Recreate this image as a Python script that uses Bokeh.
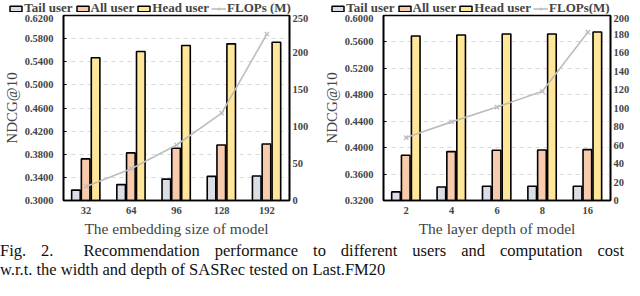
from bokeh.plotting import figure
from bokeh.models import (Range1d, LinearAxis, FactorRange, FixedTicker, Legend,
                          LegendItem, Div, NumeralTickFormatter, ColumnDataSource)
from bokeh.transform import dodge
from bokeh.layouts import row, column
from bokeh.embed import file_html
from bokeh.resources import INLINE

# ---- data ----
emb_sizes = ["32", "64", "96", "128", "192"]
emb_tail = [0.318, 0.3275, 0.337, 0.3417, 0.3423]
emb_all = [0.372, 0.3823, 0.3904, 0.396, 0.3977]
emb_head = [0.5469, 0.5578, 0.568, 0.571, 0.5738]
emb_flops = [19, 43, 75, 118, 225]
emb_yticks = [0.30, 0.34, 0.38, 0.42, 0.46, 0.50, 0.54, 0.58, 0.62]
emb_rticks = [0, 50, 100, 150, 200, 250]

depths = ["2", "4", "6", "8", "16"]
dep_tail = [0.333, 0.3405, 0.3415, 0.3415, 0.3415]
dep_all = [0.3885, 0.394, 0.396, 0.3965, 0.397]
dep_head = [0.569, 0.5705, 0.572, 0.572, 0.575]
dep_flops = [68, 85, 101, 118, 182]
dep_yticks = [0.32, 0.36, 0.40, 0.44, 0.48, 0.52, 0.56, 0.60]
dep_rticks = [0, 20, 40, 60, 80, 100, 120, 140, 160, 180, 200]

series_names = ["Tail user", "All user", "Head user"]
caption_1 = "Fig. 2.&nbsp; Recommendation performance to different users and computation cost"
caption_2 = "w.r.t. the width and depth of SASRec tested on Last.FM20"

FONT = "Liberation Serif"
COLORS = ["#D9DEE7", "#F8CBAD", "#FFE699"]
FLOP_COLOR = "#BDBDBD"
NAN = float("nan")


def legend_fig(flabel, border_left, frame_w, border_right):
    p = figure(x_range=Range1d(0, 1), y_range=Range1d(0, 1),
               frame_width=frame_w, frame_height=14,
               min_border_left=border_left, min_border_right=border_right,
               min_border_top=0, min_border_bottom=0,
               x_axis_type=None, y_axis_type=None,
               output_backend="svg", toolbar_location=None)
    p.outline_line_color = None
    p.xgrid.visible = False
    p.ygrid.visible = False
    # placeholder renderers (one invisible NaN row) so the legend can draw its swatches
    rs = []
    for c in COLORS:
        rs.append(p.vbar(x=[NAN], top=[NAN], width=0.2, fill_color=c, line_color="black", line_width=1.5))
    rl = p.line(x=[NAN], y=[NAN], line_color=FLOP_COLOR, line_width=1.6)
    rm = p.scatter(x=[NAN], y=[NAN], marker="x", size=6, line_color=FLOP_COLOR, line_width=1.4)
    items = [LegendItem(label=n, renderers=[r]) for n, r in zip(series_names, rs)]
    items.append(LegendItem(label=flabel, renderers=[rl, rm]))
    leg = Legend(items=items, orientation="horizontal", location="top_left",
                 label_text_font=FONT, label_text_font_style="bold", label_text_font_size="13px",
                 glyph_width=15, glyph_height=7, label_standoff=1, spacing=2, padding=0, margin=0,
                 label_height=12, background_fill_alpha=0, border_line_alpha=0)
    p.add_layout(leg)
    return p


def panel(cats, tail, allu, head, flops, yticks, rticks, xtitle,
          border_left, frame_w, border_right):
    src = ColumnDataSource(dict(cat=cats, tail=tail, allu=allu, head=head, flops=flops))
    FH = 185
    ylo, yhi = yticks[0], yticks[-1]
    p = figure(x_range=FactorRange(*cats), y_range=Range1d(ylo, yhi),
               frame_width=frame_w, frame_height=FH,
               min_border_left=border_left, min_border_right=border_right,
               min_border_top=1, min_border_bottom=36,
               output_backend="svg", toolbar_location=None)
    p.extra_y_ranges = {"f": Range1d(rticks[0], rticks[-1])}
    for off, col, c in zip([-0.225, -0.01, 0.21], ["tail", "allu", "head"], COLORS):
        p.vbar(x=dodge("cat", off, range=p.x_range), top=col, bottom=ylo, width=0.19,
               source=src, fill_color=c, line_color="black", line_width=1.6)
    p.line(x="cat", y="flops", y_range_name="f", source=src, line_color=FLOP_COLOR, line_width=1.6)
    p.scatter(x="cat", y="flops", y_range_name="f", source=src, marker="x", size=6,
              line_color=FLOP_COLOR, line_width=1.4)

    ya = p.yaxis[0]
    ya.ticker = FixedTicker(ticks=yticks)
    ya.formatter = NumeralTickFormatter(format="0.0000")
    ya.axis_label = "NDCG@10"
    ya.axis_label_text_font = FONT
    ya.axis_label_text_font_style = "normal"
    ya.axis_label_text_font_size = "15px"
    ya.axis_label_standoff = 2
    ya.major_label_text_font = FONT
    ya.major_label_text_font_style = "bold"
    ya.major_label_text_font_size = "10.5px"
    ya.major_label_standoff = 10
    ya.major_tick_in = 3
    ya.major_tick_out = 0
    ya.minor_tick_line_color = None
    ya.axis_line_width = 1.6

    ra = LinearAxis(y_range_name="f", ticker=FixedTicker(ticks=rticks))
    ra.major_label_text_font = FONT
    ra.major_label_text_font_style = "bold"
    ra.major_label_text_font_size = "10.5px"
    ra.major_label_standoff = 3
    ra.major_tick_in = 0
    ra.major_tick_out = 0
    ra.minor_tick_line_color = None
    ra.axis_line_width = 1.6
    p.add_layout(ra, "right")

    xa = p.xaxis[0]
    xa.axis_label = xtitle
    xa.axis_label_text_font = FONT
    xa.axis_label_text_font_style = "normal"
    xa.axis_label_text_font_size = "15.5px"
    xa.axis_label_standoff = 3
    xa.major_label_text_font = FONT
    xa.major_label_text_font_style = "bold"
    xa.major_label_text_font_size = "10.5px"
    xa.major_label_standoff = 6
    xa.major_tick_in = 0
    xa.major_tick_out = 0
    xa.axis_line_width = 1.6

    p.xgrid.visible = False
    p.ygrid.ticker = FixedTicker(ticks=yticks)
    p.ygrid.grid_line_color = "#D9D9D9"
    p.ygrid.grid_line_dash = "4 4"
    p.ygrid.grid_line_width = 1
    p.outline_line_color = "black"
    p.outline_line_width = 1.6
    p.outline_line_alpha = 1
    return p


l1 = legend_fig("FLOPs (M)", 25, 287, 0)
l2 = legend_fig("FLOPs(M)", 40, 272, 0)
p1 = panel(emb_sizes, emb_tail, emb_all, emb_head, emb_flops, emb_yticks, emb_rticks,
           "The embedding size of model", 58, 226, 28)
p2 = panel(depths, dep_tail, dep_all, dep_head, dep_flops, dep_yticks, dep_rticks,
           "The layer depth of model", 66, 227, 19)

cap = Div(text=(
    f'<div style="font-family:\'{FONT}\';font-size:16.5px;line-height:19px;color:#111;width:624px;padding-top:2px">'
    f'<div style="text-align:justify;text-align-last:justify;white-space:nowrap">{caption_1}</div>'
    f'<div style="white-space:nowrap">{caption_2}</div></div>'), width=624, height=42, margin=0)

layout = column(row(column(l1, p1), column(l2, p2)), cap)
open("out.html", "w").write(file_html(layout, INLINE))
